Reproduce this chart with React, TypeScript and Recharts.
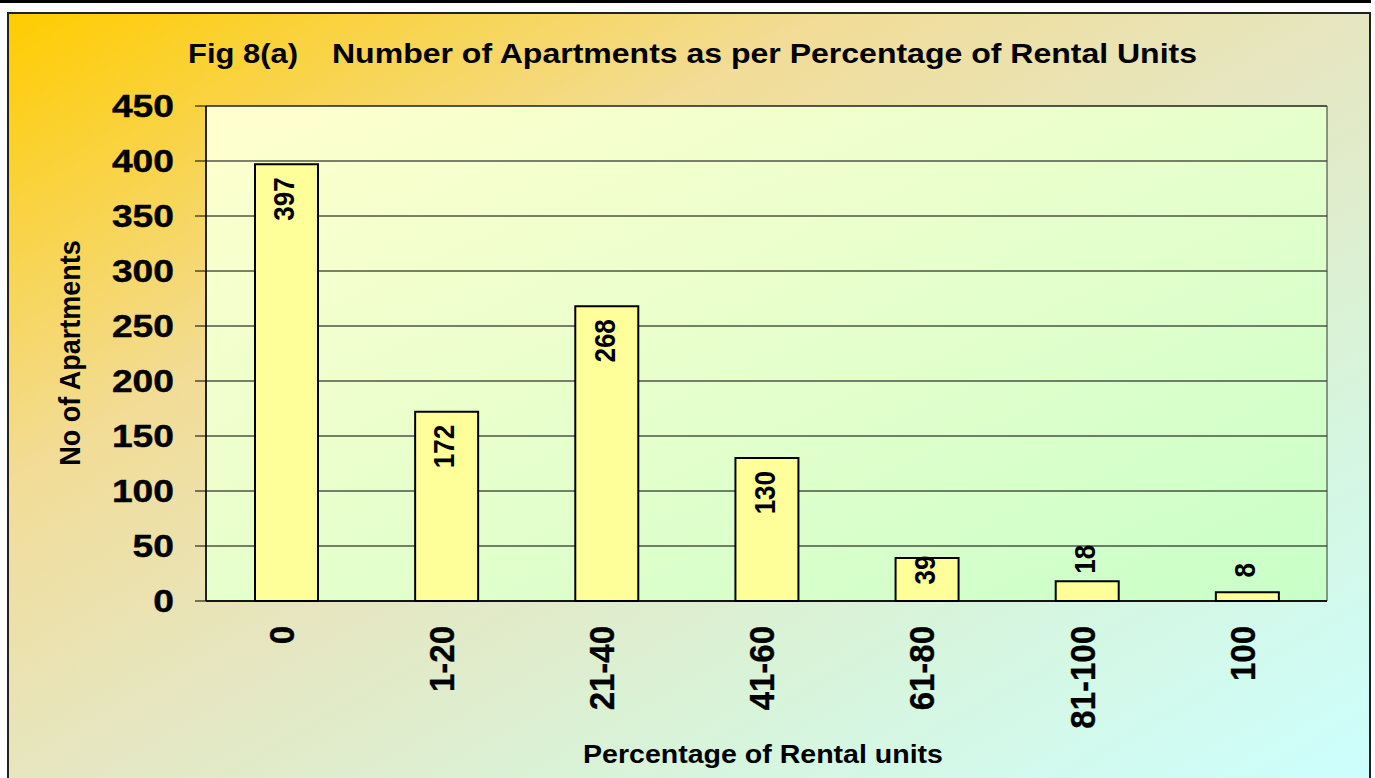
import React from 'react';
import { BarChart, Bar, XAxis, YAxis, CartesianGrid, ReferenceArea } from 'recharts';

const categories = ['0', '1-20', '21-40', '41-60', '61-80', '81-100', '100'];
const apartments = [397, 172, 268, 130, 39, 18, 8];
const yTicks = [0, 50, 100, 150, 200, 250, 300, 350, 400, 450];
const edgeTicks = [0, 1, 2, 3, 4, 5, 6, 7];
const titleLead = 'Fig 8(a)';
const titleMain = 'Number of Apartments as per Percentage of Rental Units';
const xTitle = 'Percentage of Rental units';
const yTitle = 'No of Apartments';

const data = categories.map((c, i) => ({ cat: c, value: apartments[i] }));

const FONT = '"Liberation Sans", Arial, Helvetica, sans-serif';

const YTick = (props: any) => {
  const { x, y, payload } = props;
  return (
    <text
      transform={`translate(${x},${y}) scale(1.2,1)`}
      textAnchor="end"
      dy="0.36em"
      fontFamily={FONT}
      fontWeight="bold"
      fontSize={31}
      fill="#000"
      stroke="#000"
      strokeWidth={0.4}
    >
      {payload.value}
    </text>
  );
};

const XTick = (props: any) => {
  const { x, y, payload } = props;
  return (
    <text
      transform={`translate(${x - 5},${y}) scale(1.08,1) rotate(-90)`}
      textAnchor="end"
      dy="0.36em"
      fontFamily={FONT}
      fontWeight="bold"
      fontSize={33}
      fill="#000"
      stroke="#000"
      strokeWidth={0.3}
    >
      {payload.value}
    </text>
  );
};

const BarLabel = (props: any) => {
  const { x, y, width, height, value } = props;
  const cx = x + width / 2 - 3;
  let ty: number;
  let anchor: 'end' | 'middle';
  if (height > 100) {
    ty = y + 13;
    anchor = 'end';
  } else if (height > 30) {
    ty = y + 12;
    anchor = 'middle';
  } else {
    ty = y - 22;
    anchor = 'middle';
  }
  return (
    <text
      transform={`translate(${cx},${ty}) scale(1.15,1) rotate(-90)`}
      textAnchor={anchor}
      dy="0.36em"
      fontFamily={FONT}
      fontWeight="bold"
      fontSize={26}
      fill="#000"
    >
      {value}
    </text>
  );
};

export default function App() {
  return (
    <div style={{ position: 'absolute', left: 0, top: 0, width: 1375, height: 778, overflow: 'hidden', background: '#fff' }}>
      <svg width="0" height="0" style={{ position: 'absolute' }}>
        <defs>
          <linearGradient id="plotBg" x1="0" y1="0" x2="1" y2="1">
            <stop offset="0%" stopColor="#FFFFCE" />
            <stop offset="50%" stopColor="#E6FFCC" />
            <stop offset="100%" stopColor="#C8FFC8" />
          </linearGradient>
        </defs>
      </svg>
      <div style={{ position: 'absolute', left: 0, top: 0, width: 1371, height: 3, background: '#000' }} />
      <div
        style={{
          position: 'absolute',
          left: 7,
          top: 12,
          width: 1364,
          height: 780,
          boxSizing: 'border-box',
          border: '2px solid #222',
          background: 'linear-gradient(to bottom right, #FFCC00 0%, #F2DC96 30%, #E6E6C0 50%, #D8F4DA 72%, #CCFFFF 100%)',
        }}
      />
      <div style={{ position: 'absolute', left: 0, top: 0 }}>
        <BarChart width={1375} height={778} data={data} margin={{ top: 106, right: 48, bottom: 0, left: 0 }}>
          <CartesianGrid xAxisId="cat" yAxisId="y" vertical={false} stroke="#000" strokeWidth={1} fill="url(#plotBg)" fillOpacity={1} />
          <XAxis
            xAxisId="edge"
            type="number"
            domain={[0, 7]}
            ticks={edgeTicks}
            allowDataOverflow
            height={0}
            tick={false}
            axisLine={false}
            tickLine={{ stroke: '#000', strokeWidth: 1 }}
            tickSize={10}
          />
          <XAxis
            xAxisId="cat"
            dataKey="cat"
            height={177}
            tickLine={false}
            tickSize={0}
            tickMargin={25}
            interval={0}
            axisLine={{ stroke: '#000', strokeWidth: 1.5 }}
            tick={<XTick />}
          />
          <YAxis
            yAxisId="y"
            width={206}
            domain={[0, 450]}
            ticks={yTicks}
            interval={0}
            tickSize={11}
            tickMargin={21}
            axisLine={{ stroke: '#000', strokeWidth: 1.5 }}
            tickLine={{ stroke: '#000', strokeWidth: 1 }}
            tick={<YTick />}
          />
          <ReferenceArea xAxisId="cat" yAxisId="y" y1={0} y2={450} stroke="#333" strokeWidth={1} fill="none" fillOpacity={0} />
          <Bar
            xAxisId="cat"
            yAxisId="y"
            dataKey="value"
            fill="#FFFF99"
            stroke="#000"
            strokeWidth={2}
            barSize={63}
            isAnimationActive={false}
            label={BarLabel}
          />
          <text x={188} y={63} fontFamily={FONT} fontWeight="bold" fontSize={28} fill="#000" textLength={110} lengthAdjust="spacingAndGlyphs">
            {titleLead}
          </text>
          <text x={332} y={63} fontFamily={FONT} fontWeight="bold" fontSize={28} fill="#000" textLength={865} lengthAdjust="spacingAndGlyphs">
            {titleMain}
          </text>
          <text x={583} y={763} fontFamily={FONT} fontWeight="bold" fontSize={25} fill="#000" textLength={360} lengthAdjust="spacingAndGlyphs">
            {xTitle}
          </text>
          <text
            transform="translate(69,353) scale(1.1,1) rotate(-90)"
            textAnchor="middle"
            dy="0.36em"
            fontFamily={FONT}
            fontWeight="bold"
            fontSize={27}
            fill="#000"
          >
            {yTitle}
          </text>
        </BarChart>
      </div>
    </div>
  );
}
